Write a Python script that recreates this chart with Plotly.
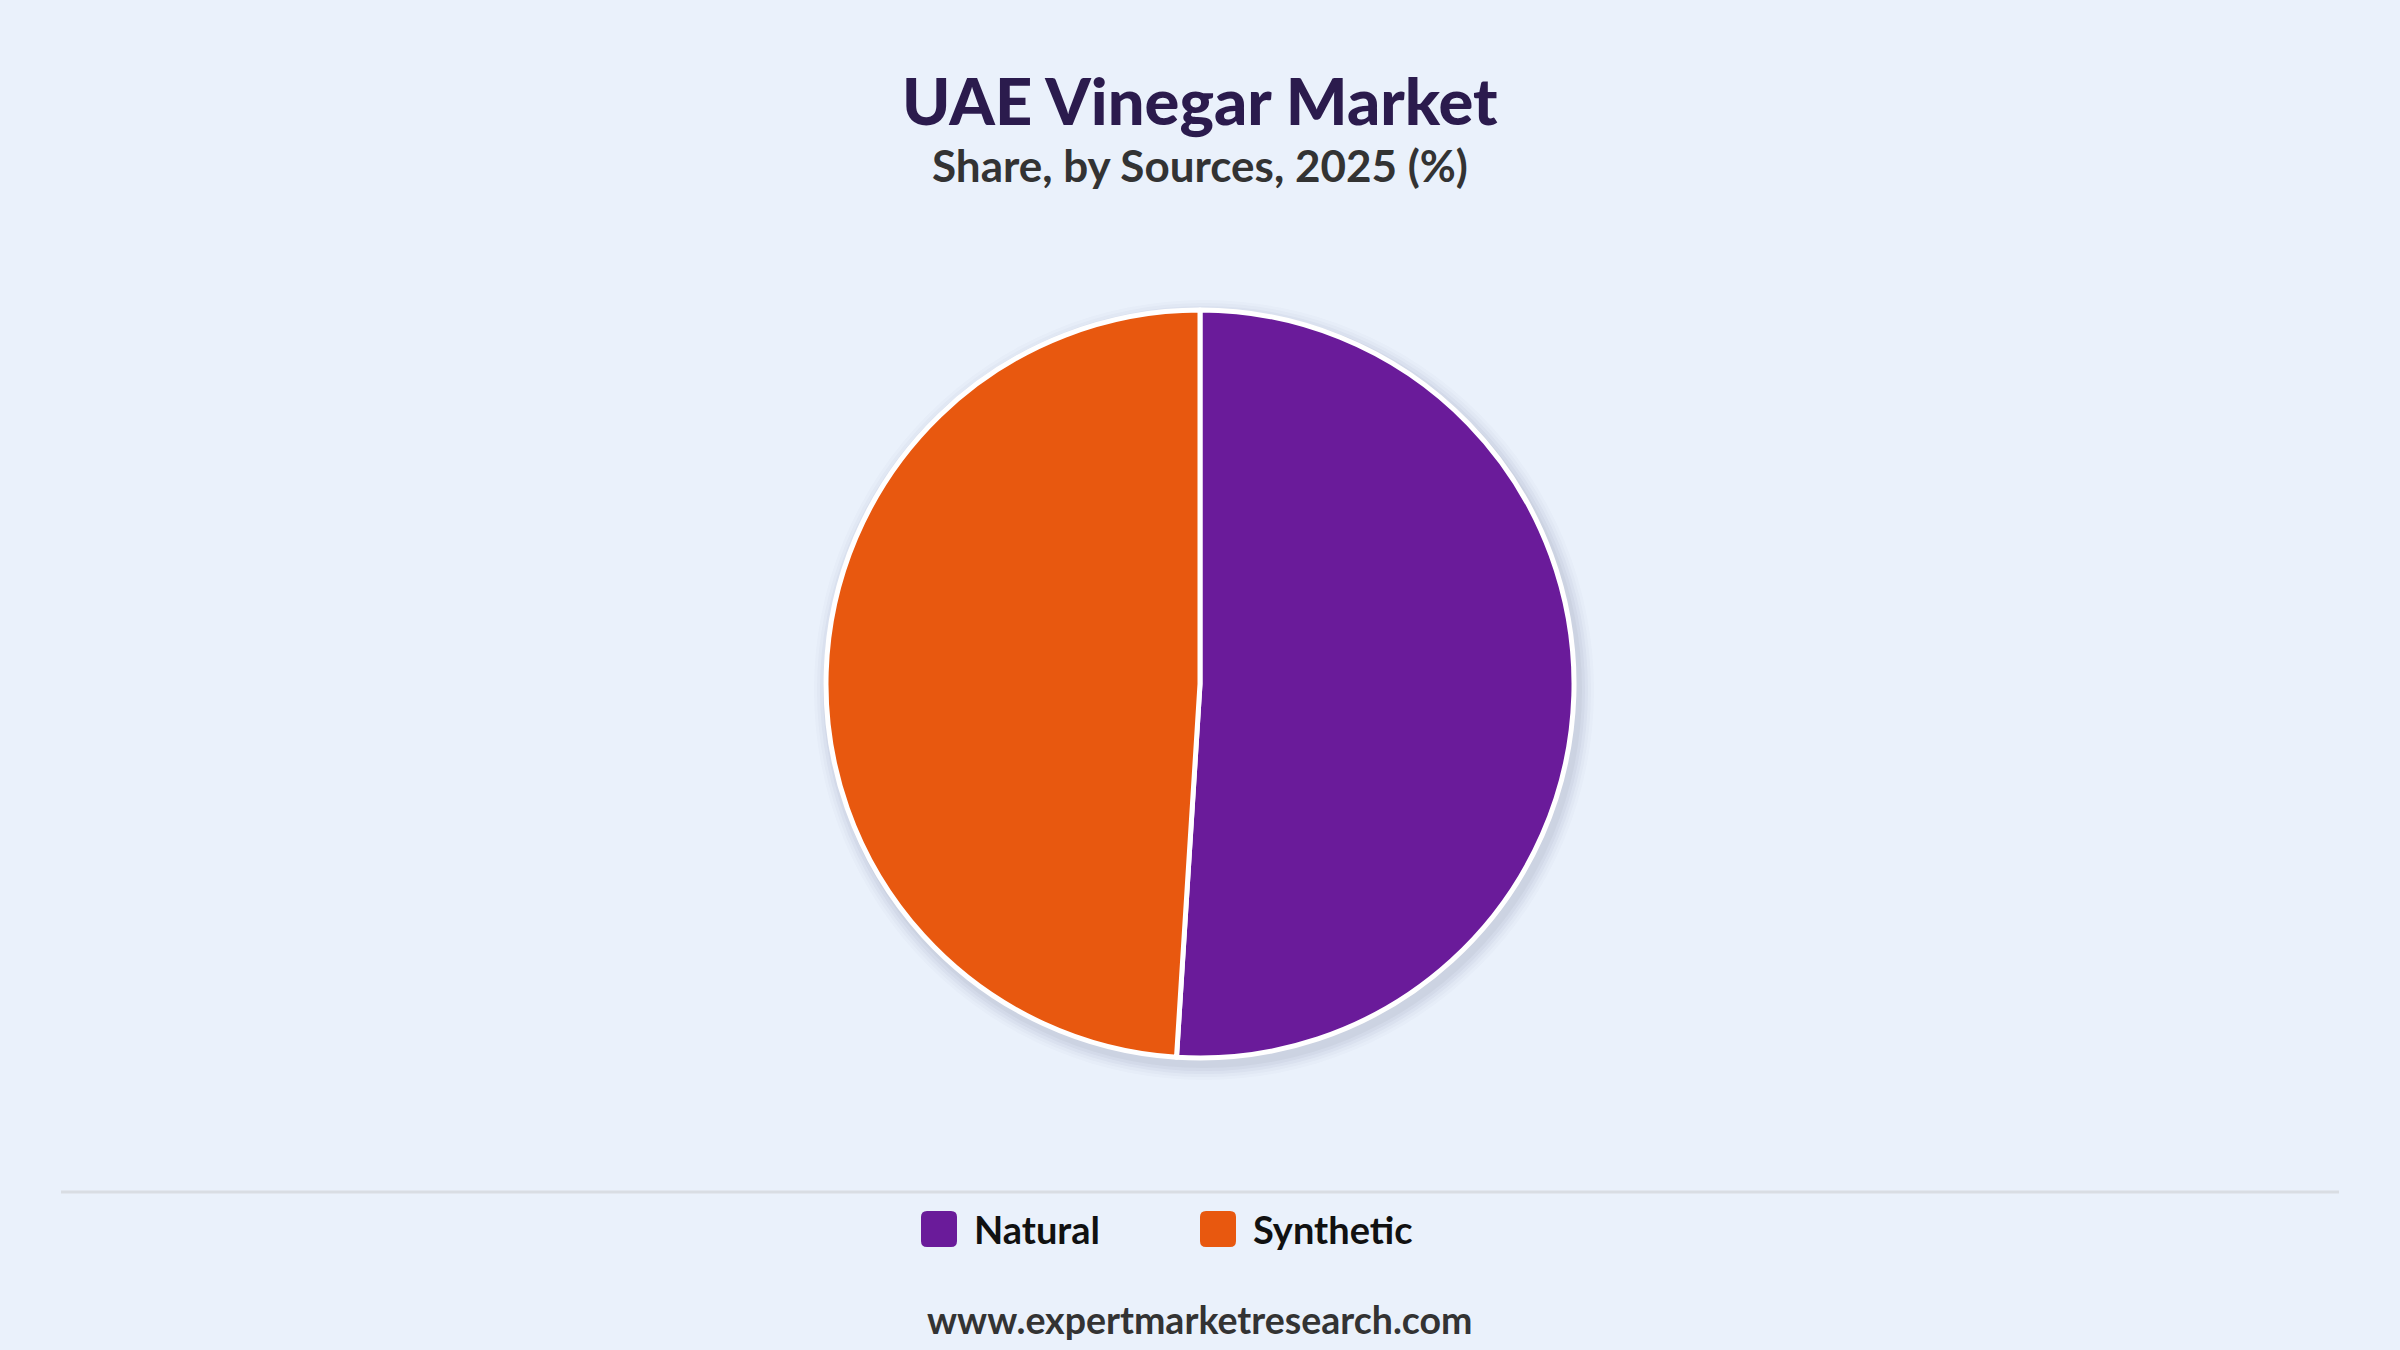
import plotly.graph_objects as go

# *** Data ***
Sources = ["Natural", "Synthetic"]
Shares = [51, 49]
Colors = ["#6A1B9A", "#E8580F"]

W, H = 2400, 1350
BG = "#EAF1FB"
FONT = "Lato"

# pie placement in pixels
CX, CY, R = 1200, 684, 374

Pie = go.Pie(
    labels=Sources,
    values=Shares,
    sort=False,
    direction="clockwise",
    rotation=0,
    textinfo="none",
    marker=dict(colors=Colors, line=dict(color="white", width=5)),
    domain=dict(x=[(CX - R) / W, (CX + R) / W], y=[(H - CY - R) / H, (H - CY + R) / H]),
    showlegend=False,
)

fig = go.Figure(data=[Pie])


def px_x(v):
    return v / W


def px_y(v):
    return (H - v) / H


# soft shadow under the pie
shapes = []
for i, a in enumerate([0.02, 0.025, 0.03, 0.035, 0.04]):
    rr = R + 16 - i * 3
    shapes.append(dict(
        type="circle", xref="paper", yref="paper", layer="below",
        x0=px_x(CX + 4 - rr), x1=px_x(CX + 4 + rr),
        y0=px_y(CY + 6 + rr), y1=px_y(CY + 6 - rr),
        fillcolor="rgba(40,40,80,%s)" % a, line=dict(width=0)))

# separator line above legend
shapes.append(dict(type="line", xref="paper", yref="paper",
                   x0=px_x(61), x1=px_x(2339), y0=px_y(1192), y1=px_y(1192),
                   line=dict(color="#D9DDE3", width=3)))


def round_box(x0, y0, s, r):
    # rounded square path in paper coords
    pts = [
        "M", px_x(x0 + r), px_y(y0),
        "L", px_x(x0 + s - r), px_y(y0), "Q", px_x(x0 + s), px_y(y0), px_x(x0 + s), px_y(y0 + r),
        "L", px_x(x0 + s), px_y(y0 + s - r), "Q", px_x(x0 + s), px_y(y0 + s), px_x(x0 + s - r), px_y(y0 + s),
        "L", px_x(x0 + r), px_y(y0 + s), "Q", px_x(x0), px_y(y0 + s), px_x(x0), px_y(y0 + s - r),
        "L", px_x(x0), px_y(y0 + r), "Q", px_x(x0), px_y(y0), px_x(x0 + r), px_y(y0), "Z",
    ]
    return " ".join(str(p) for p in pts)


# custom legend (big rounded squares)
annots = []
Leg_X = [921, 1200]
for Name, Col, lx in zip(Sources, Colors, Leg_X):
    shapes.append(dict(type="path", xref="paper", yref="paper",
                       path=round_box(lx, 1211, 36, 6),
                       fillcolor=Col, line=dict(width=0)))
    annots.append(dict(text="<b>%s</b>" % Name, x=px_x(lx + 51), y=px_y(1229),
                       xref="paper", yref="paper", xanchor="left", yanchor="middle",
                       showarrow=False, font=dict(family=FONT, size=38, color="#111111")))

# titles and footer
annots.append(dict(text="UAE Vinegar Market", x=0.5, y=px_y(100), xref="paper", yref="paper",
                   xanchor="center", yanchor="middle", showarrow=False,
                   font=dict(family=FONT, size=65, color="#2B1B4D", weight=900)))
annots.append(dict(text="<b>Share, by Sources, 2025 (%)</b>", x=0.5, y=px_y(165), xref="paper", yref="paper",
                   xanchor="center", yanchor="middle", showarrow=False,
                   font=dict(family=FONT, size=44, color="#333333")))
annots.append(dict(text="<b>www.expertmarketresearch.com</b>", x=0.5, y=px_y(1319), xref="paper", yref="paper",
                   xanchor="center", yanchor="middle", showarrow=False,
                   font=dict(family=FONT, size=37.5, color="#333333")))

fig.update_layout(
    width=W, height=H,
    margin=dict(l=0, r=0, t=0, b=0),
    paper_bgcolor=BG, plot_bgcolor=BG,
    shapes=shapes, annotations=annots,
)

fig.write_html("out.html", config=dict(displayModeBar=False),
               post_script="document.body.style.margin='0';document.body.style.background='%s';" % BG)
